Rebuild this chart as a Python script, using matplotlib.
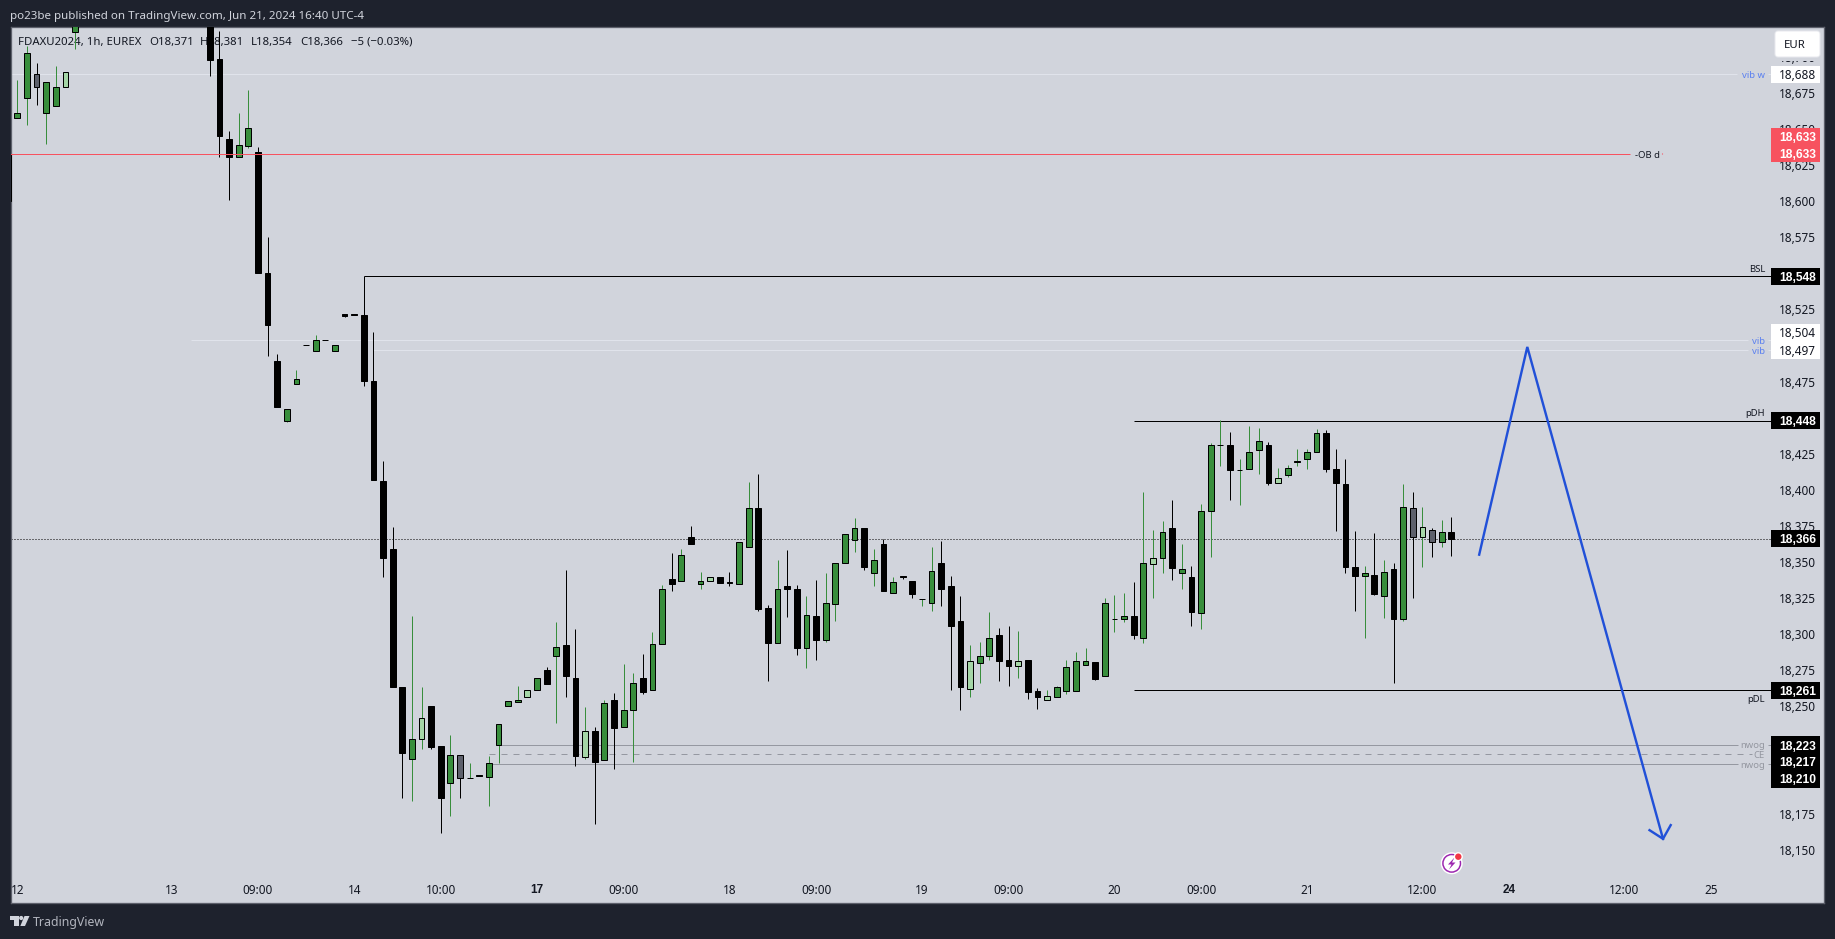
"""FDAX 1h candles with levels, TradingView style."""
import matplotlib
matplotlib.use("Agg")
import matplotlib.pyplot as plt
from matplotlib.patches import Circle, FancyBboxPatch, Polygon, Rectangle

W = 1835
H = 939
PT = 0.72  # points per pixel at dpi 100

# None = bar sits above the visible range
opens = [
    18600.5, 18657.5, 18671.5, 18688.5, 18661, 18666, 18679.5, 18717.5, None, None,
    None, None, None, None, None, None, None, None, None, None,
    None, 18730, 18698.5, 18643.5, 18630.5, 18638.5, 18634, 18550.5, 18489, 18448,
    18473, 18500.5, 18496.5, 18504, 18496.5, 18522, 18521.5, 18521, 18475.5, 18406,
    18359, 18263, 18213, 18227, 18250, 18222.5, 18197, 18216, 18200, 18202,
    18201, 18223, 18250, 18253, 18256, 18261, 18275, 18285, 18292.5, 18269.5,
    18215, 18233, 18212.5, 18254.5, 18235.5, 18247, 18269.5, 18261, 18293, 18338,
    18337, 18367.5, 18335, 18337, 18339.5, 18336, 18335, 18360.5, 18387, 18318,
    18294, 18333.5, 18331.5, 18290.5, 18312.5, 18296, 18321, 18349, 18365, 18373.5,
    18342, 18362.5, 18328.5, 18340, 18337, 18324.5, 18321.5, 18349, 18333.5, 18309,
    18262, 18280, 18285, 18299, 18282, 18278, 18282, 18260.5, 18254, 18256,
    18260.5, 18260.5, 18278.5, 18280.5, 18271, 18310.5, 18310.5, 18312.5, 18297.5, 18348.5,
    18353, 18373.5, 18342.5, 18339.5, 18314.5, 18385, 18431, 18431, 18414, 18414.5,
    18427.5, 18431, 18405, 18410.5, 18419, 18421.5, 18426.5, 18439.5, 18414.5, 18404,
    18346.5, 18340.5, 18341, 18326.5, 18345, 18310.5, 18387, 18367.5, 18372, 18364,
    18371,
]
highs = [
    18632.5, 18684, 18707.5, 18696, 18682.5, 18693.5, 18689.5, 18735, None, None,
    None, None, None, None, None, None, None, None, None, None,
    None, 18735, 18718, 18648.5, 18661, 18677, 18637.5, 18575, 18494, 18456,
    18483, 18500.5, 18507.5, 18504, 18500, 18522, 18521.5, 18548, 18509.5, 18420,
    18374, 18263, 18312.5, 18263, 18250, 18222.5, 18230, 18216, 18210.5, 18202,
    18215.5, 18237.5, 18253.5, 18264, 18261, 18269.5, 18277, 18308.5, 18344.5, 18303.5,
    18249.5, 18235.5, 18254.5, 18259, 18279, 18273, 18286, 18301.5, 18334, 18356,
    18359, 18375, 18343, 18339.5, 18339.5, 18343, 18364, 18405.5, 18411, 18320,
    18351, 18358, 18334, 18326.5, 18337.5, 18342.5, 18349.5, 18369, 18380.5, 18373.5,
    18359, 18366, 18339.5, 18340, 18337, 18324.5, 18360.5, 18364.5, 18340, 18326.5,
    18292.5, 18294.5, 18315, 18304, 18305.5, 18302, 18282, 18262.5, 18261, 18264,
    18282, 18287.5, 18290, 18280.5, 18325, 18327, 18328.5, 18336, 18398.5, 18372,
    18378.5, 18393, 18362.5, 18347, 18390, 18432.5, 18448.5, 18440, 18421.5, 18444,
    18443, 18433, 18415, 18417, 18428, 18428, 18442, 18441.5, 18428, 18421.5,
    18371.5, 18347, 18370, 18351, 18349, 18404, 18398.5, 18388, 18373.5, 18379,
    18381,
]
lows = [
    18600.5, 18657.5, 18653, 18667, 18640, 18666, 18679.5, 18705.5, None, None,
    None, None, None, None, None, None, None, None, None, None,
    None, 18686.5, 18631, 18601, 18630.5, 18637, 18550.5, 18493, 18457.5, 18447,
    18473, 18500, 18496.5, 18503.5, 18496.5, 18519.5, 18521, 18472, 18406.5, 18339.5,
    18263.5, 18186.5, 18184.5, 18220, 18220, 18162, 18173.5, 18186.5, 18200, 18201.5,
    18180.5, 18210.5, 18250, 18253, 18256, 18261, 18265.5, 18238.5, 18256.5, 18208.5,
    18213.5, 18168.5, 18212.5, 18206.5, 18235.5, 18211.5, 18258.5, 18261, 18293, 18329.5,
    18337, 18362.5, 18331.5, 18337, 18335.5, 18333.5, 18335, 18360.5, 18316, 18267.5,
    18294, 18311.5, 18285.5, 18276.5, 18282, 18294.5, 18309, 18349, 18356.5, 18344.5,
    18333.5, 18330, 18328.5, 18338, 18325, 18319.5, 18316, 18319.5, 18261.5, 18247,
    18256.5, 18266, 18282, 18267.5, 18264, 18269.5, 18255, 18248, 18254, 18256,
    18258.5, 18260.5, 18278.5, 18268, 18271, 18301.5, 18308.5, 18296.5, 18293.5, 18325,
    18342.5, 18337.5, 18331.5, 18305.5, 18303.5, 18353.5, 18416.5, 18393, 18389.5, 18414.5,
    18411, 18403.5, 18405, 18408.5, 18416.5, 18414.5, 18426.5, 18412.5, 18371.5, 18342.5,
    18316, 18297.5, 18327, 18311, 18266, 18309, 18325, 18346.5, 18353.5, 18360.5,
    18354,
]
closes = [
    18632.5, 18661.5, 18702.5, 18679, 18682.5, 18679.5, 18689.5, 18730, None, None,
    None, None, None, None, None, None, None, None, None, None,
    None, 18698, 18645.5, 18630.5, 18639, 18650.5, 18550.5, 18514.5, 18457.5, 18456,
    18476.5, 18500, 18503.5, 18503.5, 18500, 18520.5, 18521, 18475.5, 18406.5, 18353,
    18263.5, 18217.5, 18227, 18242, 18222, 18186.5, 18216, 18200, 18200, 18201.5,
    18210.5, 18237.5, 18253.5, 18254.5, 18261, 18269.5, 18265.5, 18291, 18271, 18215.5,
    18233, 18211, 18252, 18235, 18247, 18266, 18260, 18293, 18331, 18335,
    18355, 18362.5, 18337, 18339.5, 18335.5, 18335.5, 18364, 18387, 18317.5, 18294,
    18331, 18331.5, 18290.5, 18313, 18296, 18321.5, 18349.5, 18369, 18373.5, 18346.5,
    18351, 18330, 18336, 18339.5, 18328, 18324.5, 18344, 18331.5, 18305.5, 18263,
    18281, 18285, 18297, 18281, 18278, 18281, 18260, 18256, 18257, 18263,
    18277, 18281, 18281, 18269, 18321.5, 18310.5, 18312.5, 18299, 18349, 18353,
    18371, 18346, 18345, 18315, 18385, 18431, 18431, 18414, 18414, 18426.5,
    18433.5, 18405, 18408, 18415, 18420, 18426, 18439, 18414.5, 18404.5, 18346.5,
    18340, 18342, 18327.5, 18343, 18310.5, 18388, 18367.5, 18374, 18364, 18371,
    18366,
]
pale_bars = [3, 6, 43, 47, 54, 60, 73, 100, 105, 108, 119, 132, 146, 147, 148]

# 18,500 sits fully behind the value boxes
price_ticks = [p for p in range(18150, 18701, 25) if p != 18500]
time_tick_bars = [1, 17, 26, 36, 45, 55, 64, 75, 84, 95, 104, 115, 124, 135, 147, 156, 168, 177]
time_tick_labels = ["12", "13", "09:00", "14", "10:00", "17", "09:00", "18", "09:00",
                    "19", "09:00", "20", "09:00", "21", "12:00", "24", "12:00", "25"]
bold_time_labels = ["17", "24"]

# price boxes on the scale
box_prices = [18688, 18633, 18633, 18548, 18504, 18497, 18448, 18366, 18261, 18223, 18217, 18210]
box_nudges = [0, -17, 0, 0, -7.5, 0, 0, 0, 0, 0, 7.5, 15]
box_kinds = ["w", "r", "r", "k", "w", "w", "k", "k", "k", "k", "k", "k"]

# blue projection drawn by the author
path_bars = [152.9, 157.9, 172.0]
path_prices = [18355, 18499, 18158]
head_bars = [170.6, 172.0, 172.8]
head_prices = [18164, 18158, 18167.5]

BG = "#d1d4dc"
DARK = "#1e222d"
GREEN = "#388e3c"
PALE_UP = "#a5d6a7"
PALE_DOWN = "#5d606b"
LIGHT = "#e0e3eb"
GREY = "#9598a1"
RED = "#f7525f"
BLUE = "#2150d8"
LABEL_BLUE = "#5b80f0"
FONT = "Noto Sans"
BOLD_FONT = "Liberation Sans"


def line(ax, price, start, end, color, width=1.0, style="-", zorder=2):
    """Horizontal level between two bar positions."""
    ax.plot([start, end], [price, price], color=color, lw=width * PT, ls=style,
            zorder=zorder, solid_capstyle="butt", clip_on=True)


def draw_candles(ax):
    """Wicks first, bodies on top."""
    for i, o in enumerate(opens):
        if o is None:
            continue
        c = closes[i]
        up = c >= o
        if up:
            fill = PALE_UP if i in pale_bars else GREEN
        else:
            fill = PALE_DOWN if i in pale_bars else "black"
        ax.vlines(i, lows[i], highs[i], color=GREEN if up else "black", lw=PT, zorder=3)
        ax.bar(i, abs(c - o), bottom=min(o, c), width=0.6, color=fill,
               edgecolor="black", lw=PT, zorder=3.5)


def draw_levels(ax):
    """Horizontal levels from the drawings."""
    line(ax, 18688, 0, 179.7, LIGHT)
    line(ax, 18688, 182.9, 183.2, LIGHT)
    line(ax, 18504, 19, 180.8, LIGHT)
    line(ax, 18504, 182.9, 183.2, LIGHT)
    line(ax, 18497, 38, 180.8, LIGHT)
    line(ax, 18497, 182.9, 183.2, LIGHT)
    line(ax, 18633, 0, 168.6, RED, zorder=4)
    line(ax, 18548, 37, 183.2, "black")
    line(ax, 18448, 117, 183.2, "black")
    line(ax, 18261, 117, 183.2, "black")
    line(ax, 18223, 51, 179.8, GREY)
    line(ax, 18223, 182.9, 183.2, GREY)
    line(ax, 18210, 50, 179.8, GREY)
    line(ax, 18210, 182.9, 183.2, GREY)
    ax.plot([50, 181.2], [18217, 18217], color=GREY, lw=PT, zorder=2, ls=(0, (6, 6)))
    ax.plot([0, 183.2], [18366, 18366], color="black", lw=PT, zorder=2, ls=(0, (1, 2)))


def draw_price_boxes(ax, px):
    """Coloured value boxes on the price scale."""
    for price, nudge, kind in zip(box_prices, box_nudges, box_kinds):
        y = H - ax.transData.transform((0, price))[1] + nudge
        face = {"w": "white", "r": RED, "k": "black"}[kind]
        px.add_patch(Rectangle((1771, y - 8.7), 48.7, 17.4, fc=face, ec="none", zorder=5))
        if kind == "w":
            px.text(1779.3, y, f"{price:,}", color="#131722", fontsize=11.8 * PT, family=FONT,
                    va="center_baseline", ha="left", zorder=6)
        else:
            px.text(1779.3, y, f"{price:,}", color="white", fontsize=12 * PT, family=BOLD_FONT,
                    va="center_baseline", ha="left", zorder=6, fontweight="bold")


def draw_level_text(px):
    """Small names next to the levels."""
    names = [("vib w", 1765, 74.5, LABEL_BLUE, "right"), ("vib", 1765, 340, LABEL_BLUE, "right"),
             ("vib", 1765, 350, LABEL_BLUE, "right"), ("-OB d", 1635, 154, "#131722", "left"),
             ("BSL", 1765, 268.5, "#131722", "right"), ("pDH", 1765, 412, "#131722", "right"),
             ("pDL", 1765, 699, "#131722", "right"), ("nwog", 1765, 745, GREY, "right"),
             ("CE", 1765, 754.5, GREY, "right"), ("nwog", 1765, 764, GREY, "right")]
    for name, x, y, color, align in names:
        px.text(x, y, name, color=color, fontsize=9.5 * PT, family=FONT, ha=align,
                va="center_baseline")
    px.add_patch(Circle((1662.5, 154), 0.6, fc=RED, ec="none"))


def draw_chrome(ax, px):
    """Header, legend, EUR button, footer logo and the alert icon."""
    px.text(10, 15, "po23be published on TradingView.com, Jun 21, 2024 16:40 UTC-4",
            color=BG, fontsize=11.6 * PT, family=FONT, va="center_baseline")
    legend = [("FDAXU2024, 1h, EUREX", 18), ("O18,371", 149), ("H18,381", 200), ("L18,354", 251),
              ("C18,366", 300), ("\u22125 (\u22120.03%)", 351)]
    for s, x in legend:
        ax.text(x, 41, s, transform=px.transData, color="#131722", fontsize=11.4 * PT,
                family=FONT, va="center_baseline", zorder=1)

    # only the comma tail of the top tick shows below the button
    px.add_patch(Rectangle((1775, 50), 46, 11.3, fc=BG, ec="none", zorder=4))
    px.add_patch(FancyBboxPatch((1777, 33), 41, 22, boxstyle="round,pad=2,rounding_size=3",
                                fc="white", ec="#e8e9ee", lw=PT, zorder=7))
    px.text(1794.5, 44, "EUR", color="#131722", fontsize=11.4 * PT, family=FONT, ha="center",
            va="center_baseline", zorder=8)

    # TradingView logo
    px.add_patch(Polygon([(10, 916), (18.5, 916), (18.5, 926), (14, 926), (14, 920), (10, 920)],
                         fc=BG, ec="none"))
    px.add_patch(Circle((21.2, 918), 2.1, fc=BG, ec="none"))
    px.add_patch(Polygon([(24.5, 916), (29.5, 916), (25, 926), (20.3, 926)], fc=BG, ec="none"))
    px.text(33, 921, "TradingView", color="#b2b5be", fontsize=12.4 * PT, family=FONT,
            va="center_baseline")

    # alert icon
    px.add_patch(Circle((1451.7, 863.3), 11, fc="white", ec="none"))
    px.add_patch(Circle((1451.7, 863.3), 8.8, fc="white", ec="#9c27b0", lw=1.5 * PT))
    px.add_patch(Polygon([(1454.5, 857.5), (1448, 864.5), (1451.5, 864.5), (1449, 869.5),
                          (1455.5, 862.5), (1452, 862.5)], fc="#9c27b0", ec="none"))
    px.add_patch(Circle((1458.3, 856.7), 4.6, fc="white", ec="none"))
    px.add_patch(Circle((1458.3, 856.7), 3.2, fc="#f23645", ec="none"))


def main():
    """Build the whole picture."""
    fig = plt.figure(figsize=(W / 100, H / 100), dpi=100, facecolor=DARK)
    left, right, top, bottom = 10.7, 1824.3, 27.0, 903.3
    ax = fig.add_axes([left / W, 1 - bottom / H, (right - left) / W, (bottom - top) / H])
    px = fig.add_axes([0, 0, 1, 1], zorder=5)
    px.set_xlim(0, W)
    px.set_ylim(H, 0)
    px.axis("off")

    ax.set_facecolor(BG)
    ax.set_xlim((left - 7.68) / 9.624, (right - 7.68) / 9.624)
    ax.set_ylim(18113.3, 18720.8)
    for spine in ax.spines.values():
        spine.set_color("#5d606b")
        spine.set_linewidth(1.3 * PT)

    ax.set_yticks(price_ticks, labels=[f"{p:,}" for p in price_ticks])
    ax.yaxis.tick_right()
    ax.tick_params(axis="y", length=0, pad=-45 * PT, labelsize=11.8 * PT, labelcolor="#131722")
    ax.set_xticks(time_tick_bars, labels=time_tick_labels)
    ax.tick_params(axis="x", length=0, pad=-19.5 * PT, labelsize=11.8 * PT, labelcolor="#131722")
    for label in ax.get_xticklabels() + ax.get_yticklabels():
        label.set_family(FONT)
    for label in ax.get_xticklabels():
        if label.get_text() in bold_time_labels:
            label.set_family(BOLD_FONT)
            label.set_fontweight("bold")

    draw_levels(ax)
    draw_candles(ax)
    ax.plot(path_bars, path_prices, color=BLUE, lw=2.4 * PT, zorder=4.5, solid_joinstyle="miter")
    ax.plot(head_bars, head_prices, color=BLUE, lw=2.4 * PT, zorder=4.5, solid_joinstyle="miter")
    ax.set_xlim((left - 7.68) / 9.624, (right - 7.68) / 9.624)
    ax.set_ylim(18113.3, 18720.8)

    draw_price_boxes(ax, px)
    draw_level_text(px)
    draw_chrome(ax, px)
    fig.savefig("out.png", dpi=100, facecolor=DARK)


if __name__ == "__main__":
    main()
